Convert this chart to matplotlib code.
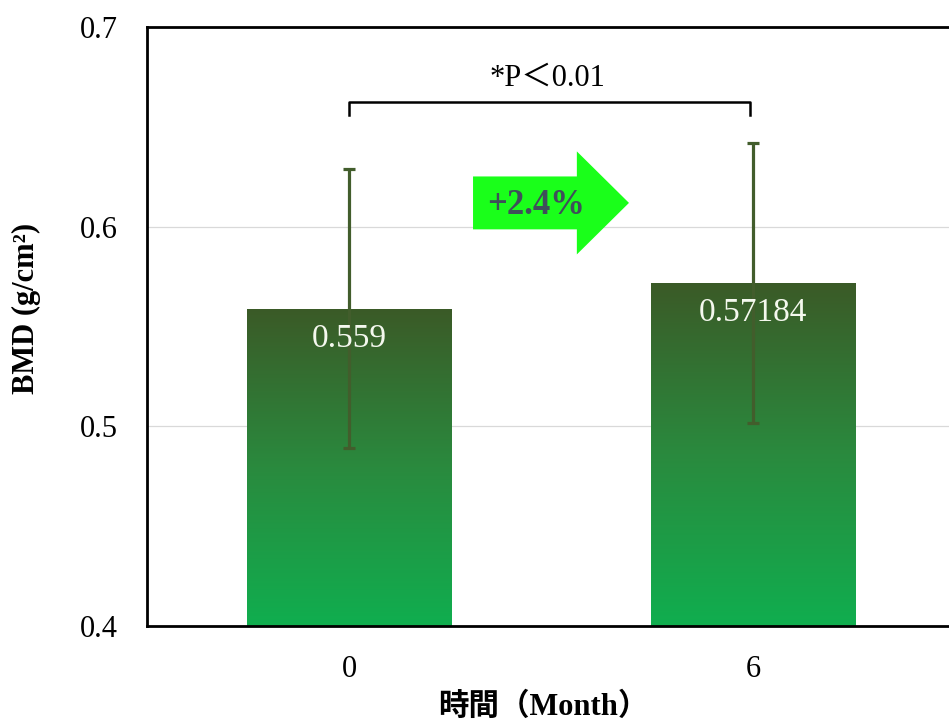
import numpy as np
import matplotlib
matplotlib.use("Agg")
import matplotlib.pyplot as plt
from matplotlib.colors import LinearSegmentedColormap
from matplotlib.patches import FancyArrow

plt.rcParams['font.family'] = ['Liberation Serif', 'Noto Sans CJK JP']

# data
months = ['0', '6']
bmd = [0.559, 0.57184]
bmd_sd = [0.070, 0.070]
value_labels = ['0.559', '0.57184']
p_text = '*P＜0.01'
change_text = '+2.4%'

fig = plt.figure(figsize=(9.49, 7.22), dpi=100)
ax = fig.add_axes([147 / 949, 1 - 626 / 722, 808 / 949, 599 / 722])

x = np.arange(len(months))
bar_w = 0.507
bars = ax.bar(x, bmd, bar_w, color='none', edgecolor='none', zorder=2)

# vertical gradient fill for each bar
cmap = LinearSegmentedColormap.from_list('bmd', ['#10ae4f', '#2a8a3e', '#3b5a27'])
grad = np.linspace(0, 1, 256).reshape(-1, 1)
for rect in bars:
    x0 = rect.get_x()
    im = ax.imshow(grad, cmap=cmap, origin='lower', aspect='auto',
                   extent=[x0, x0 + rect.get_width(), 0.4, rect.get_height()],
                   zorder=2)
    im.set_clip_path(rect)

ax.errorbar(x, bmd, yerr=bmd_sd, fmt='none', ecolor='#425d2c',
            elinewidth=2.3, capsize=4, capthick=2.3, zorder=3)

for xi, v, lab in zip(x, bmd, value_labels):
    ax.text(xi, v - 0.0075, lab, ha='center', va='top', color='#f4f8ee',
            fontsize=24, zorder=4)

ax.set_xlim(-0.5, 1.5)
ax.set_ylim(0.4, 0.7)
ax.set_yticks([0.4, 0.5, 0.6, 0.7])
ax.set_yticklabels(['0.4', '0.5', '0.6', '0.7'])
ax.set_xticks(x)
ax.set_xticklabels(months)
ax.tick_params(length=0, labelsize=22, pad=21)
ax.yaxis.grid(True, color='#d9d9d9', lw=0.9)
ax.set_axisbelow(True)

for side in ['left', 'bottom', 'top', 'right']:
    ax.spines[side].set_linewidth(2.0)
    ax.spines[side].set_color('black')

ax.set_ylabel('BMD (g/cm²)', fontsize=22, fontweight='bold')
ax.set_xlabel('時間（Month）', fontsize=22, fontweight='bold')
ax.xaxis.set_label_coords(0.49, -0.112)
ax.yaxis.set_label_coords(-0.131, 0.53)

# significance bracket
ax.plot([0, 0, 0.993, 0.993], [0.6559, 0.6624, 0.6624, 0.6559],
        color='black', lw=1.8, zorder=4)
ax.text(0.49, 0.6745, p_text, ha='center', va='center', fontsize=22)

# change arrow
ax.add_patch(FancyArrow(0.307, 0.6119, 0.386, 0, width=0.0265,
                        head_width=0.0516, head_length=0.129,
                        length_includes_head=True, color='#1aff1a',
                        lw=0, zorder=4))
ax.text(0.463, 0.6105, change_text, ha='center', va='center', fontsize=25,
        fontweight='bold', color='#3f4f5a', zorder=5)

fig.savefig('out.png', dpi=100)
